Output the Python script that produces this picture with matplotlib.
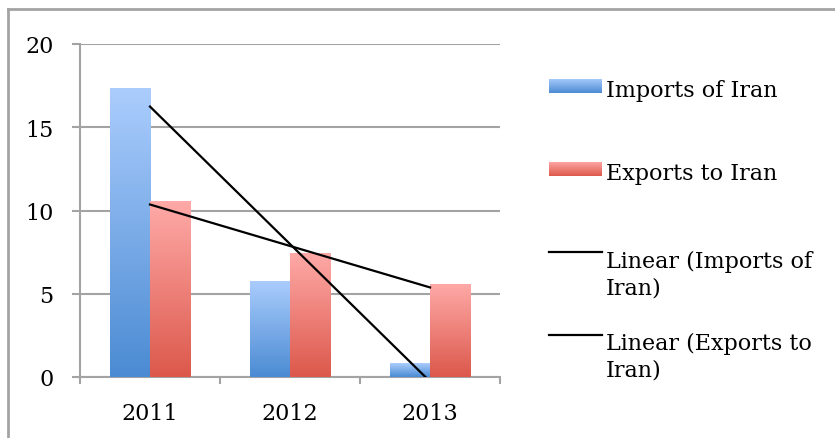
import numpy as np
import matplotlib
matplotlib.use("Agg")
import matplotlib.pyplot as plt
from matplotlib.lines import Line2D
from matplotlib.colors import LinearSegmentedColormap

# data
years = ["2011", "2012", "2013"]
imports_of_iran = [17.35, 5.77, 0.84]
exports_to_iran = [10.57, 7.45, 5.59]
series_labels = ["Imports of Iran", "Exports to Iran",
                 "Linear (Imports of\nIran)", "Linear (Exports to\nIran)"]

W, H = 835, 439
plt.rcParams["font.family"] = "DejaVu Serif"
plt.rcParams["font.size"] = 16

blue_cmap = LinearSegmentedColormap.from_list("blue", ["#4b8bd3", "#abcdfd"])
red_cmap = LinearSegmentedColormap.from_list("red", ["#dc584b", "#ffaaa8"])
grid_col = "#a3a3a3"

fig = plt.figure(figsize=(W / 100, H / 100), dpi=100)
ax = fig.add_axes([80 / W, 61 / H, 420 / W, 333 / H])

x = np.arange(len(years))
bw = 0.286
grad = np.linspace(0, 1, 256).reshape(-1, 1)


def gradient_bars(xpos, vals, cmap):
    bars = ax.bar(xpos, vals, width=bw, facecolor="none", edgecolor="none", zorder=3)
    for b in bars:
        x0, y0 = b.get_x(), b.get_y()
        im = ax.imshow(grad, cmap=cmap, origin="lower", aspect="auto",
                       extent=[x0, x0 + b.get_width(), y0, y0 + b.get_height()],
                       zorder=3)
        im.set_clip_path(b)


gradient_bars(x - bw / 2, imports_of_iran, blue_cmap)
gradient_bars(x + bw / 2, exports_to_iran, red_cmap)

# linear trendlines fitted on the series
for vals in (imports_of_iran, exports_to_iran):
    k, c = np.polyfit(x, vals, 1)
    ax.plot(x, k * x + c, color="black", lw=1.6, zorder=4)

ax.set_xlim(-0.5, 2.5)
ax.set_ylim(0, 20)
ax.set_yticks([0, 5, 10, 15, 20])
ax.set_xticks(x)
ax.set_xticklabels(years)
ax.set_xticks([-0.5, 0.5, 1.5, 2.5], minor=True)
ax.yaxis.grid(True, color=grid_col, lw=1.5, zorder=0)
ax.set_axisbelow(True)
for s in ("top", "right"):
    ax.spines[s].set_visible(False)
for s in ("left", "bottom"):
    ax.spines[s].set_color(grid_col)
    ax.spines[s].set_linewidth(1.5)
ax.tick_params(axis="y", length=6, width=1.5, color=grid_col, pad=13)
ax.tick_params(axis="x", which="major", length=0, pad=18)
ax.tick_params(axis="x", which="minor", length=5, width=1.5, color=grid_col)

# legend drawn by hand to mimic the spreadsheet layout
def fx(px):
    return px / W


def fy(py):
    return 1 - py / H


mark_y = [87, 170, 253, 336]
# baseline of the last text line of each entry
text_base = [97, 180, 295, 377]
for i, lab in enumerate(series_labels):
    yc = mark_y[i]
    if i < 2:
        cmap = blue_cmap if i == 0 else red_cmap
        lax = fig.add_axes([fx(549), fy(yc + 7), fx(602) - fx(549), 14.5 / H])
        lax.imshow(grad, cmap=cmap, origin="lower", aspect="auto")
        lax.axis("off")
    else:
        fig.add_artist(Line2D([fx(549), fx(602)], [fy(yc), fy(yc)],
                              color="black", lw=1.6))
    fig.text(fx(606), fy(text_base[i]), lab, va="baseline", ha="left",
             linespacing=1.3)

# outer chart frame (only top and left edges visible)
fig.add_artist(Line2D([fx(8), fx(8)], [fy(10), -0.1], color=grid_col, lw=2))
fig.add_artist(Line2D([fx(8), 1.1], [fy(10), fy(10)], color=grid_col, lw=2))

fig.savefig("out.png", dpi=100)
